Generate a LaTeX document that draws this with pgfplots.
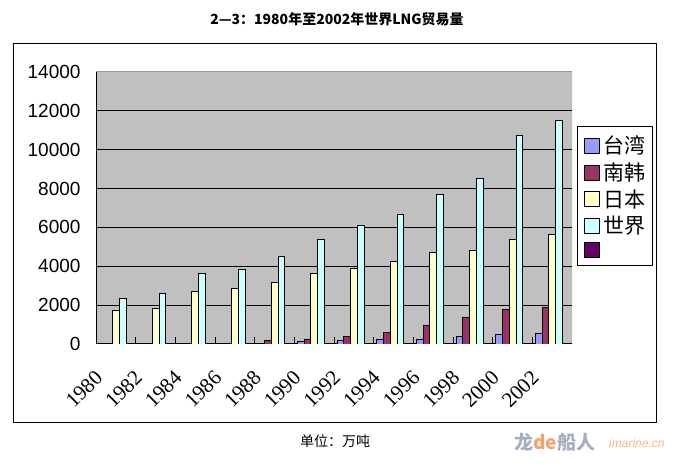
\documentclass[border=0pt]{standalone}
\usepackage{fontspec}
\setmainfont{Liberation Sans}
\newfontfamily\cjk{Noto Sans CJK SC}
\newfontfamily\yrfont{Liberation Serif}
\usepackage{pgfplots}
\pgfplotsset{compat=1.18}

\definecolor{twc}{HTML}{9999FF}
\definecolor{krc}{HTML}{993366}
\definecolor{jpc}{HTML}{FFFFCC}
\definecolor{wdc}{HTML}{CCFFFF}
\definecolor{fifth}{HTML}{660066}
\definecolor{plotbg}{HTML}{C0C0C0}
\definecolor{wmblue}{HTML}{A3AEC0}
\definecolor{wmorange}{HTML}{F2A56A}

\pgfplotsset{sq/.style={legend image code/.code={%
  \path (0bp,0bp);
  \draw[##1,draw=black,line width=0.7bp] (3bp,-7.5bp) rectangle (18bp,7.5bp);}}}

% 万吨, every second year
\pgfplotstableread{
idx tw   kr   jp   wd
0   nan  nan  1710 2350
1   nan  nan  1820 2590
2   nan  nan  2690 3620
3   nan  nan  2880 3860
4   nan  200  3190 4520
5   120  260  3620 5400
6   200  410  3890 6120
7   260  600  4270 6680
8   260  980  4730 7700
9   410  1390 4820 8520
10  500  1770 5400 10730
11  550  1870 5660 11520
}\lngdata

\begin{document}
\begin{tikzpicture}
\path[use as bounding box] (0bp,0bp) rectangle (674bp,467bp);
\draw[line width=1bp] (13bp,44bp) rectangle (656bp,423bp);
\node[font=\cjk\bfseries\fontsize{14bp}{14bp}\selectfont] at (337bp,448bp)
  {2—3：1980年至2002年世界LNG贸易量};
\node[font=\cjk\fontsize{14bp}{14bp}\selectfont] at (335bp,26bp) {单位：万吨};
\node[anchor=west,inner sep=0pt,font=\cjk\bfseries\fontsize{19bp}{19bp}\selectfont]
  at (514bp,25bp) {\textcolor{wmblue}{龙}\textcolor{wmorange}{de}\textcolor{wmblue}{船人}};
\node[anchor=west,inner sep=0pt,font=\itshape\fontsize{12bp}{12bp}\selectfont,text=wmorange!80]
  at (609bp,24bp) {imarine.cn};

\begin{axis}[
  at={(96bp,123bp)}, anchor=south west,
  scale only axis, width=476bp, height=272bp,
  ybar, bar width=0.17,
  xmin=-0.5, xmax=11.5,
  ymin=0, ymax=14000,
  ytick={0,2000,...,14000},
  xtick={0,...,11},
  xticklabels={1980,1982,1984,1986,1988,1990,1992,1994,1996,1998,2000,2002},
  minor xtick={0.5,1.5,...,10.5},
  major tick length=0pt,
  minor tick length=7bp,
  tick align=inside,
  minor tick style={black, line width=0.8bp},
  ymajorgrids, grid style={black, line width=1bp},
  axis background/.style={fill=plotbg},
  axis x line*=bottom, axis y line*=left,
  axis line style={black, line width=1bp, -},
  scaled y ticks=false,
  /pgf/number format/assume math mode=true,
  yticklabel={\pgfmathprintnumber[fixed,1000 sep={}]{\tick}},
  yticklabel style={font=\fontsize{19bp}{19bp}\selectfont, anchor=east, xshift=-12bp},
  xticklabel style={font=\yrfont\fontsize{21bp}{21bp}\selectfont, xshift=-22bp, yshift=-25bp,
    rotate=45, anchor=north east, inner sep=0pt},
  legend style={at={(1.0105,0.80)}, anchor=north west, draw=black, line width=1bp,
    fill=white, font=\cjk\fontsize{21bp}{21bp}\selectfont,
    inner xsep=3bp, inner ysep=8bp, row sep=5.5bp,
    nodes={inner xsep=4bp, inner ysep=1bp}},
  legend cell align=left,
]
\addplot[sq, fill=twc, draw=black, line width=0.7bp, bar shift=-0.34] table[x=idx,y=tw]{\lngdata};
\addlegendentry{台湾}
\addplot[sq, fill=krc, draw=black, line width=0.7bp, bar shift=-0.17] table[x=idx,y=kr]{\lngdata};
\addlegendentry{南韩}
\addplot[sq, fill=jpc, draw=black, line width=0.7bp, bar shift=0] table[x=idx,y=jp]{\lngdata};
\addlegendentry{日本}
\addplot[sq, fill=wdc, draw=black, line width=0.7bp, bar shift=0.17] table[x=idx,y=wd]{\lngdata};
\addlegendentry{世界}
\addlegendimage{sq, fill=fifth}
\addlegendentry{}
\draw[gray!80, line width=1bp] (rel axis cs:0,1) -- (rel axis cs:1,1) -- (rel axis cs:1,0);
\end{axis}
\end{tikzpicture}
\end{document}
